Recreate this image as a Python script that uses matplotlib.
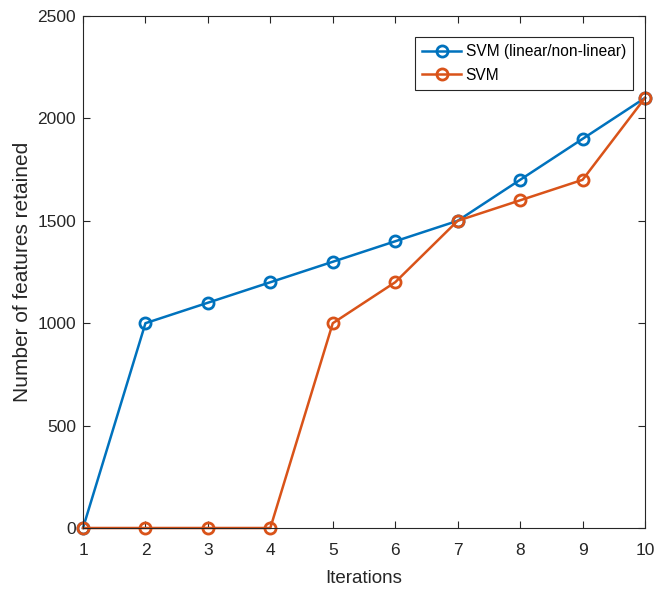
import matplotlib
matplotlib.use("Agg")
import matplotlib.pyplot as plt

iterations = [1, 2, 3, 4, 5, 6, 7, 8, 9, 10]
svm_lin_nonlin = [0, 1000, 1100, 1200, 1300, 1400, 1500, 1700, 1900, 2100]
svm = [0, 0, 0, 0, 1000, 1200, 1500, 1600, 1700, 2100]
yticks = [0, 500, 1000, 1500, 2000, 2500]

plt.rcParams['font.family'] = ['Liberation Sans', 'DejaVu Sans']
fs = 12.5

fig = plt.figure(figsize=(6.55, 5.92), dpi=100)
ax = fig.add_axes([83/655, 1-528/592, (645-83)/655, (528-16)/592])

ax.plot(iterations, svm_lin_nonlin, color='#0072BD', lw=1.8, marker='o', ms=8,
        mfc='none', mew=2, label='SVM (linear/non-linear)', clip_on=False)
ax.plot(iterations, svm, color='#D95319', lw=1.8, marker='o', ms=8,
        mfc='none', mew=2, label='SVM', clip_on=False)

ax.set_xlim(1, 10)
ax.set_ylim(0, 2500)
ax.set_xticks(iterations)
ax.set_yticks(yticks)
ax.tick_params(direction='in', top=True, right=True, labelsize=fs, length=5,
               width=0.8, colors='#262626')
ax.tick_params(axis='x', pad=10.5)
ax.tick_params(axis='y', pad=5)
for s in ax.spines.values():
    s.set_linewidth(0.8)
    s.set_color('#262626')
ax.set_xlabel('Iterations', fontsize=13.5, color='#262626', labelpad=9)
ax.set_ylabel('Number of features retained', fontsize=15, color='#262626', labelpad=4)

leg = ax.legend(loc='upper right', bbox_to_anchor=((633-83)/562, 1-(37-16)/512),
                borderaxespad=0, fontsize=11.2,
                fancybox=False, edgecolor='#262626', framealpha=1,
                handlelength=2.5, borderpad=0.45, labelspacing=0.55,
                handletextpad=0.3)
leg.get_frame().set_linewidth(0.8)

fig.savefig('out.png', dpi=100)
